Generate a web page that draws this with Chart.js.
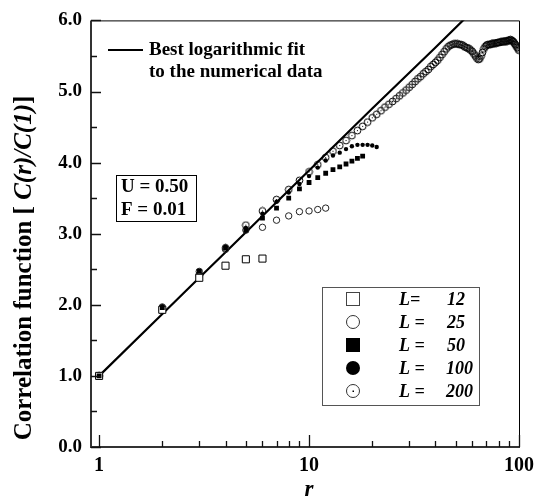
<!DOCTYPE html>
<html><head><meta charset="utf-8">
<script src="https://cdn.jsdelivr.net/npm/chart.js@4/dist/chart.umd.min.js"></script>
<style>html,body{margin:0;padding:0;background:#fff}canvas{display:block}</style>
</head><body>
<canvas id="c" width="541" height="504"></canvas>
<script>
// ---- data ----
const fitR   = [1, 2, 3, 4, 6, 10, 20, 40, 60];
const fitV   = [1.0, 1.87, 2.38, 2.74, 3.25, 3.89, 4.76, 5.62, 6.13];

const rL12 = [1, 2, 3, 4, 5, 6];
const vL12 = [1.0, 1.93, 2.38, 2.55, 2.64, 2.65];

const rL25 = [1, 2, 3, 4, 5, 6, 7, 8, 9, 10, 11, 12];
const vL25 = [1.0, 1.97, 2.47, 2.78, 3.05, 3.09, 3.19, 3.25, 3.31, 3.32, 3.34, 3.36];

const rL50 = [1, 2, 3, 4, 5, 6, 7, 8, 9, 10, 11, 12, 13, 14, 15, 16, 17, 18];
const vL50 = [1.0, 1.96, 2.47, 2.80, 3.05, 3.22, 3.36, 3.50, 3.63, 3.72, 3.79, 3.85, 3.90, 3.94, 3.98, 4.02, 4.06, 4.09];

const rL100 = [1, 2, 3, 4, 5, 6, 7, 8, 9, 10, 11, 12, 13, 14, 15, 16, 17, 18, 19, 20, 21];
const vL100 = [1.0, 1.98, 2.48, 2.82, 3.08, 3.28, 3.45, 3.58, 3.70, 3.81, 3.93, 4.03, 4.10, 4.14, 4.19, 4.23, 4.25, 4.25, 4.25, 4.24, 4.22];

const rL200 = [1,2,3,4,5,6,7,8,9,10,11,12,13,14,15,16,17,18,19,20,21,22,23,24,25,26,27,28,29,30,31,32,33,34,35,36,37,38,39,40,41,42,43,44,45,46,47,48,49,50,51,52,53,54,55,56,57,58,59,60,61,62,63,64,65,66,67,68,69,70,71,72,73,74,75,76,77,78,79,80,81,82,83,84,85,86,87,88,89,90,91,92,93,94,95,96,97,98,99,100];
const vL200 = [1.0,1.93,2.42,2.80,3.12,3.32,3.48,3.62,3.75,3.87,3.97,4.07,4.16,4.24,4.31,4.38,4.45,4.51,4.57,4.63,4.68,4.73,4.78,4.82,4.86,4.90,4.94,4.98,5.02,5.06,5.10,5.14,5.18,5.21,5.25,5.28,5.31,5.35,5.38,5.41,5.44,5.48,5.52,5.56,5.60,5.63,5.65,5.66,5.67,5.67,5.67,5.66,5.66,5.65,5.63,5.62,5.61,5.60,5.58,5.56,5.53,5.50,5.47,5.45,5.46,5.50,5.55,5.60,5.63,5.65,5.66,5.66,5.66,5.67,5.67,5.68,5.68,5.68,5.69,5.69,5.69,5.70,5.70,5.70,5.70,5.71,5.71,5.71,5.72,5.72,5.73,5.72,5.71,5.70,5.68,5.66,5.64,5.62,5.60,5.58];

const xTickLabels = [1, 10, 100];
const yTickLabels = [0, 1, 2, 3, 4, 5, 6];
const legendLabels = [['L=', '12'], ['L =', '25'], ['L =', '50'], ['L =', '100'], ['L =', '200']];
const fitLabel = ['Best logarithmic fit', 'to the numerical data'];
const paramLabel = ['U = 0.50', 'F = 0.01'];

const pts = (rs, vs) => rs.map((r, i) => ({x: r, y: vs[i]}));

function dotCircle(size, rad) {
  const c = document.createElement('canvas');
  c.width = c.height = size;
  const g = c.getContext('2d');
  g.strokeStyle = '#000'; g.lineWidth = 1;
  g.beginPath(); g.arc(size / 2, size / 2, rad, 0, Math.PI * 2); g.stroke();
  g.fillStyle = '#000'; g.fillRect(size / 2 - 0.5, size / 2 - 0.5, 1, 1);
  return c;
}
const dotStyle = dotCircle(9, 3.4);
const SERIF = "'Liberation Serif', 'Times New Roman', serif";

const deco = {
  id: 'deco',
  afterDraw(chart) {
    const {ctx, chartArea: a, scales: {x, y}} = chart;
    ctx.save();
    // frame
    ctx.strokeStyle = '#000'; ctx.lineWidth = 1;
    ctx.beginPath();
    ctx.moveTo(a.left, a.top + 0.5); ctx.lineTo(a.right + 0.5, a.top + 0.5);
    ctx.lineTo(a.right + 0.5, a.bottom);
    ctx.stroke();
    ctx.strokeStyle = '#333'; ctx.lineWidth = 2;
    ctx.beginPath();
    ctx.moveTo(a.left, a.top); ctx.lineTo(a.left, a.bottom); ctx.lineTo(a.right + 1, a.bottom);
    ctx.stroke();
    // inward ticks
    ctx.lineWidth = 1.3; ctx.strokeStyle = '#111';
    ctx.beginPath();
    for (let v = 0; v <= 6.001; v += 0.5) {
      const py = Math.round(y.getPixelForValue(v)) + 0.5;
      const len = Math.abs(v - Math.round(v)) < 1e-6 ? 10 : 6;
      ctx.moveTo(a.left, py); ctx.lineTo(a.left + len, py);
    }
    for (const d of [1, 10]) {
      for (let k = 1; k <= 10; k++) {
        const v = k * d;
        const px = Math.round(x.getPixelForValue(v)) + 0.5;
        const len = (k === 1 || k === 10) ? 12 : 6;
        ctx.moveTo(px, a.bottom); ctx.lineTo(px, a.bottom - len);
      }
    }
    ctx.stroke();

    // fit annotation
    ctx.fillStyle = '#000';
    ctx.lineWidth = 2; ctx.strokeStyle = '#000';
    ctx.beginPath(); ctx.moveTo(108, 50); ctx.lineTo(143, 50); ctx.stroke();
    ctx.font = 'bold 19px ' + SERIF;
    ctx.textAlign = 'left'; ctx.textBaseline = 'middle';
    ctx.fillText(fitLabel[0], 149, 50);
    ctx.fillText(fitLabel[1], 149, 72);

    // parameter box
    ctx.lineWidth = 1; ctx.strokeStyle = '#000';
    ctx.strokeRect(116.5, 175.5, 80, 46);
    ctx.font = 'bold 19px ' + SERIF;
    ctx.fillText(paramLabel[0], 121, 187);
    ctx.fillText(paramLabel[1], 121, 210);

    // legend box
    ctx.strokeStyle = '#555';
    ctx.strokeRect(322.5, 287.5, 157, 118);
    const rows = [299, 322, 345, 368, 391];
    const mx = 353;
    ctx.strokeStyle = '#000'; ctx.fillStyle = '#000';
    // open square
    ctx.fillStyle = '#fff';
    ctx.fillRect(mx - 7, rows[0] - 7, 14, 14);
    ctx.strokeStyle = '#444'; ctx.strokeRect(mx - 6.5, rows[0] - 6.5, 13, 13);
    // open circle
    ctx.strokeStyle = '#333';
    ctx.beginPath(); ctx.arc(mx, rows[1], 6.5, 0, Math.PI * 2); ctx.stroke();
    // filled square
    ctx.fillStyle = '#000';
    ctx.fillRect(mx - 7, rows[2] - 7, 14, 14);
    // filled circle
    ctx.beginPath(); ctx.arc(mx, rows[3], 7, 0, Math.PI * 2); ctx.fill();
    // dotted circle
    ctx.beginPath(); ctx.arc(mx, rows[4], 6.5, 0, Math.PI * 2); ctx.stroke();
    ctx.fillRect(mx - 0.5, rows[4] - 0.5, 1.5, 1.5);
    // legend texts
    ctx.font = 'italic bold 18px ' + SERIF;
    ctx.textAlign = 'left';
    legendLabels.forEach((lab, i) => {
      ctx.fillText(lab[0], 399, rows[i] + 1);
      ctx.fillText(lab[1], i < 3 ? 447 : 446, rows[i] + 1);
    });

    // x title
    ctx.textAlign = 'center';
    ctx.font = 'italic bold 23px ' + SERIF;
    ctx.fillText('r', (a.left + a.right) / 2 + 4, 490);

    // y title with mixed styles
    const parts = [
      ['Correlation function [ ', 'bold 25px ' + SERIF],
      ['C(r)/C(1)', 'italic bold 25px ' + SERIF],
      [']', 'bold 25px ' + SERIF]
    ];
    let total = 0;
    parts.forEach(p => { ctx.font = p[1]; total += ctx.measureText(p[0]).width; });
    ctx.translate(25, 268);
    ctx.rotate(-Math.PI / 2);
    ctx.textAlign = 'left'; ctx.textBaseline = 'middle';
    let cx = -total / 2;
    parts.forEach(p => { ctx.font = p[1]; ctx.fillText(p[0], cx, 0); cx += ctx.measureText(p[0]).width; });
    ctx.restore();
  }
};

new Chart(document.getElementById('c'), {
  type: 'scatter',
  data: {
    datasets: [
      {label: 'L = 50', data: pts(rL50, vL50), pointStyle: 'rect', pointRadius: 3.4, backgroundColor: '#000', borderColor: '#000', borderWidth: 0, order: 1},
      {label: 'L = 12', data: pts(rL12, vL12), pointStyle: 'rect', pointRadius: 5, backgroundColor: '#fff', borderColor: '#000', borderWidth: 1, order: 2},
      {label: 'L = 100', data: pts(rL100, vL100), pointStyle: 'circle', pointRadius: 2.2, backgroundColor: '#000', borderColor: '#000', borderWidth: 0, order: 3},
      {label: 'L = 25', data: pts(rL25, vL25), pointStyle: 'circle', pointRadius: 3.2, backgroundColor: 'rgba(255,255,255,0)', borderColor: '#222', borderWidth: 1, order: 4},
      {label: 'L = 200', data: pts(rL200, vL200), pointStyle: dotStyle, pointRadius: 3.4, order: 5},
      {label: 'fit', data: pts(fitR, fitV), showLine: true, pointRadius: 0, borderColor: '#000', borderWidth: 2.2, tension: 0, order: 6}
    ]
  },
  options: {
    responsive: false,
    animation: false,
    layout: {padding: {top: 19, right: 21, left: 0, bottom: 0}},
    plugins: {legend: {display: false}, tooltip: {enabled: false}},
    scales: {
      x: {
        type: 'logarithmic', min: 0.915, max: 100,
        grid: {display: false, drawTicks: false},
        border: {display: false},
        afterFit(s) { s.height = 57; },
        ticks: {
          autoSkip: false, maxRotation: 0, padding: 7, color: '#000',
          font: {family: SERIF, weight: 'bold', size: 20},
          callback(v) { return xTickLabels.some(t => Math.abs(t - v) < 1e-9) ? String(v) : ''; }
        }
      },
      y: {
        min: 0, max: 6,
        grid: {display: false, drawTicks: false},
        border: {display: false},
        afterFit(s) { s.width = 91; },
        afterBuildTicks(s) { s.ticks = yTickLabels.map(v => ({value: v})); },
        ticks: {
          padding: 9, color: '#000',
          font: {family: SERIF, weight: 'bold', size: 19},
          callback(v) { return Number(v).toFixed(1); }
        }
      }
    }
  },
  plugins: [deco]
});
</script>
</body></html>
